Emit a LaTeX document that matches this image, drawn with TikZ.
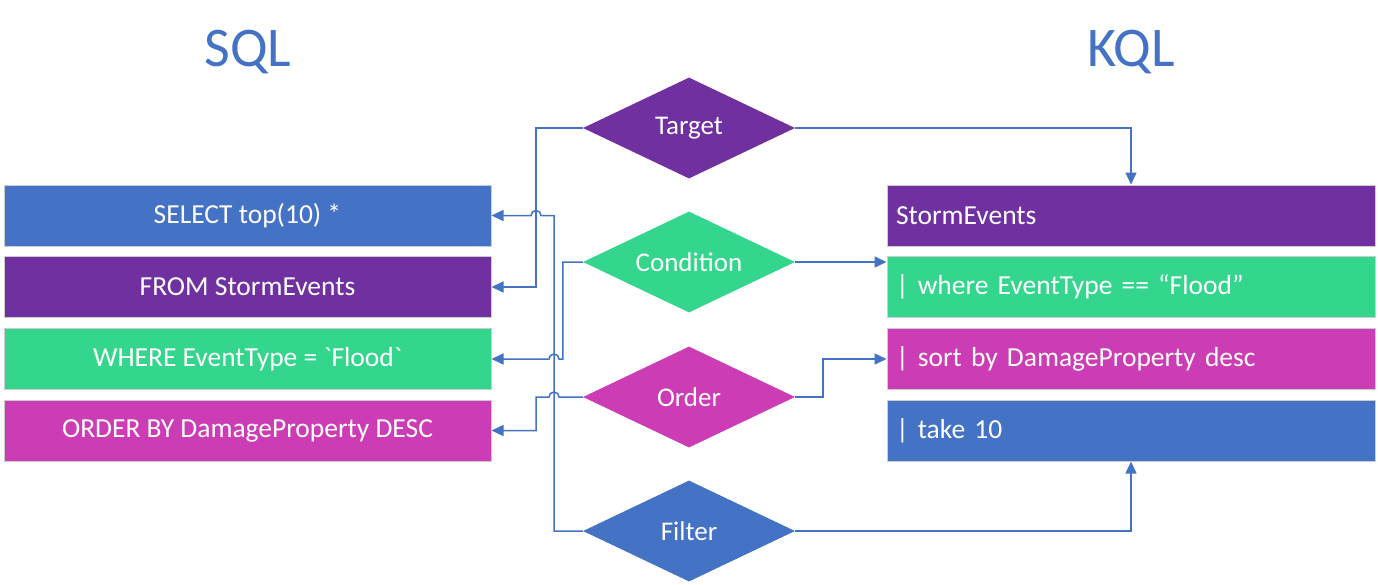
\documentclass[tikz,border=0pt]{standalone}
\usepackage{fontspec}
\setmainfont{Carlito}
\newfontfamily\rawfont{Carlito}
\usepackage{tikz}
\usetikzlibrary{shapes.geometric,arrows.meta}

\definecolor{msblue}{RGB}{68,114,196}
\definecolor{mspurple}{RGB}{112,48,160}
\definecolor{msgreen}{RGB}{52,214,142}
\definecolor{mspink}{RGB}{204,60,180}
\definecolor{msedge}{RGB}{205,205,205}

\begin{document}
\begin{tikzpicture}[x=1pt,y=-1pt,
		title/.style={text=msblue,font=\fontsize{56}{62}\selectfont},
		sqlbox/.style={draw=msedge,line width=1pt,text=white,minimum width=487pt,minimum height=61pt,
			font=\fontsize{27.5}{32}\selectfont},
		kqlbox/.style={sqlbox,minimum width=488pt,text width=470pt,align=left,inner xsep=9pt},
		choice/.style={diamond,aspect=2.1,text=white,inner sep=0pt,minimum width=212pt,minimum height=101pt,
			font=\fontsize{27}{32}\selectfont},
		conn/.style={draw=msblue,line width=1.5pt,-{Triangle[length=12pt,width=11pt]}}]
		\useasboundingbox (0,0) rectangle (1378,584);
		
		\node[title] (sqltitle) at (248,52) {SQL};
		\node[title] (kqltitle) at (1131,52) {KQL};
		
		% SQL side
		\node[sqlbox,fill=msblue] (select) at (247.5,215.5) {SELECT top(10) *};
		\node[sqlbox,fill=mspurple] (from) at (247.5,287) {FROM StormEvents};
		\node[sqlbox,fill=msgreen] (where) at (247.5,359) {\rawfont WHERE EventType = `Flood`};
		\node[sqlbox,fill=mspink] (orderby) at (247.5,430.5) {ORDER BY DamageProperty DESC};
		
		% KQL side
		\node[kqlbox,fill=mspurple] (storm) at (1131,215.5) {StormEvents};
		\node[kqlbox,fill=msgreen] (whereK) at (1131,287) {| where EventType == “Flood”};
		\node[kqlbox,fill=mspink] (sortK) at (1131,359) {| sort by DamageProperty desc};
		\node[kqlbox,fill=msblue] (takeK) at (1131,430.5) {| take 10};
		
		\node[choice,fill=mspurple] (target) at (689,128) {Target};
		\node[choice,fill=msgreen] (cond) at (689,262) {Condition};
		\node[choice,fill=mspink] (order) at (689,397) {Order};
		\node[choice,fill=msblue] (filter) at (689,531) {Filter};
		
		\coordinate (busL) at (536,0);
		\coordinate (busR) at (554,0);
		
		\draw[conn] (target.west) -- (busL |- target.west) |- (from.east);
		\draw[conn] (target.east) -| (storm.north);
		\draw[conn] (cond.west) -- ++(-20,0) |- ([xshift=5pt]busR |- where.east) arc (0:180:5pt) -- (where.east);
		\draw[conn] (cond.east) -- (cond.east -| whereK.west);
		\draw[conn] (order.west) -- ([xshift=5pt]busR |- order.west) arc (0:180:5pt) -- (busL |- order.west) |- (orderby.east);
		\draw[conn] (order.east) -- ++(28,0) |- (sortK.west);
		\draw[conn] (filter.west) -- (busR |- filter.west) |- ([xshift=5pt]busL |- select.east) arc (0:180:5pt) -- (select.east);
		\draw[conn] (filter.east) -| (takeK.south);
	\end{tikzpicture}
\end{document}
